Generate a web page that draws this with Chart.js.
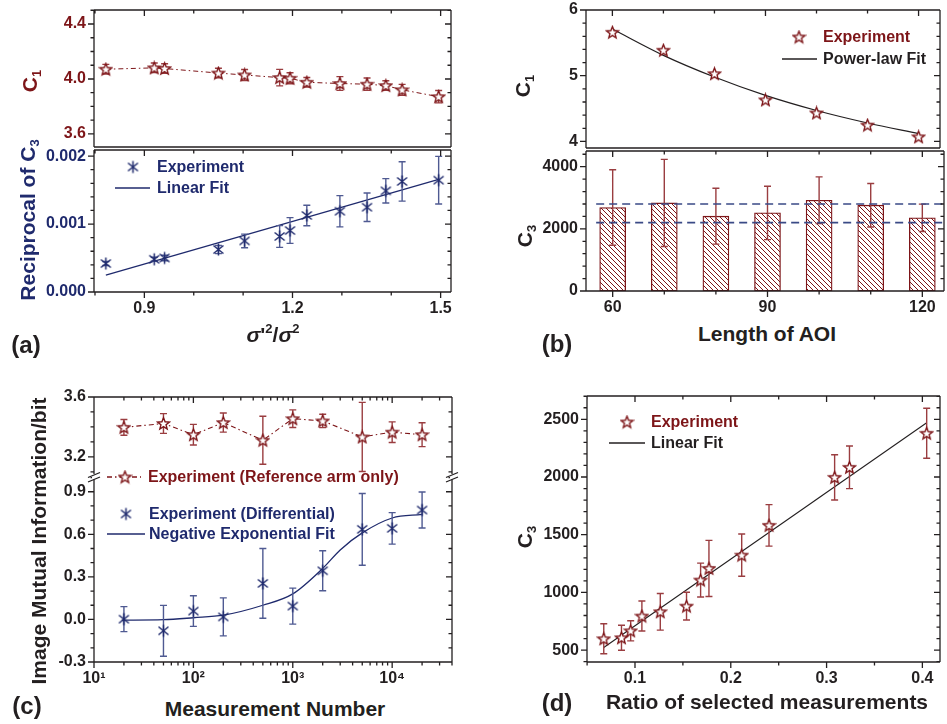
<!DOCTYPE html>
<html>
<head>
<meta charset="utf-8">
<script src="https://cdn.jsdelivr.net/npm/chart.js@4.4.0/dist/chart.umd.min.js"></script>
<style>
  body { margin: 0; background: #fff; }
  #fig { position: relative; width: 947px; height: 724px; overflow: hidden; background: #fff;
         font-family: "Liberation Sans", Arial, sans-serif; }
  #fig canvas { position: absolute; }
  .t { position: absolute; font-weight: bold; font-size: 21px; white-space: nowrap; color: #231f20;
       transform: translate(-50%, -50%); line-height: 1; }
  .r { transform: translate(-50%, -50%) rotate(-90deg); }
  .p { font-size: 24px; }
  .t sub { font-size: 13px; vertical-align: -4px; line-height: 0; }
  .t sup { font-size: 13px; vertical-align: 9px; line-height: 0; }
</style>
</head>
<body>
<div id="fig">
  <div class="t r" style="left:29px;top:81px;color:#7d1518">C<sub>1</sub></div>
  <div class="t r" style="left:27px;top:220px;color:#1f2a6d">Reciprocal of C<sub>3</sub></div>
  <div class="t" style="left:273px;top:334px"><i>σ</i>'<sup>2</sup>/<i>σ</i><sup>2</sup></div>
  <div class="t p" style="left:26px;top:345px">(a)</div>

  <div class="t r" style="left:522px;top:86px">C<sub>1</sub></div>
  <div class="t r" style="left:524px;top:236px">C<sub>3</sub></div>
  <div class="t" style="left:767px;top:333px">Length of AOI</div>
  <div class="t p" style="left:557px;top:344px">(b)</div>

  <div class="t r" style="left:38px;top:541px">Image Mutual Information/bit</div>
  <div class="t" style="left:275px;top:708px">Measurement Number</div>
  <div class="t p" style="left:27px;top:706px">(c)</div>

  <div class="t r" style="left:524px;top:537px">C<sub>3</sub></div>
  <div class="t" style="left:767px;top:701px">Ratio of selected measurements</div>
  <div class="t p" style="left:557px;top:703px">(d)</div>
</div>
<script>
// ---- (a) C1 and 1/C3 against sigma'^2/sigma^2
const ratioA = [0.822, 0.920, 0.941, 1.050, 1.103, 1.174, 1.195, 1.229, 1.296, 1.351, 1.389, 1.422, 1.496];
const c1A = [4.071, 4.081, 4.076, 4.043, 4.029, 4.010, 4.005, 3.976, 3.967, 3.962, 3.952, 3.921, 3.871];
const c1AErr = [0.035, 0.035, 0.035, 0.035, 0.04, 0.06, 0.04, 0.035, 0.05, 0.045, 0.035, 0.04, 0.045];
const invC3A = [0.000419, 0.000482, 0.000501, 0.000625, 0.000752, 0.000817, 0.000905, 0.001126, 0.001189, 0.001248, 0.001489, 0.001627, 0.001646];
const invC3AErr = [0.00003, 0.00003, 0.00004, 0.00006, 0.0001, 0.00016, 0.00019, 0.00015, 0.00023, 0.00021, 0.00018, 0.00029, 0.00035];
const linFitAX = [0.822, 1.496];
const linFitAY = [0.00025, 0.001657];
const ticksAX = [0.9, 1.2, 1.5];
const minorAX = [0.8, 1.0, 1.1, 1.3, 1.4];
const ticksC1A = [3.6, 4.0, 4.4];
const minorC1A = [3.7, 3.8, 3.9, 4.1, 4.2, 4.3, 4.5];
const ticksInvC3 = [0, 0.001, 0.002];
const minorInvC3 = [0.0002, 0.0004, 0.0006, 0.0008, 0.0012, 0.0014, 0.0016, 0.0018];

// ---- (b) against length of AOI
const aoi = [60, 70, 80, 90, 100, 110, 120];
const c1B = [5.661, 5.388, 5.030, 4.632, 4.433, 4.249, 4.070];
const powFitB = [5.71, 5.31, 4.98, 4.70, 4.47, 4.28, 4.12];
const c3B = [2687, 2834, 2408, 2513, 2921, 2761, 2357];
const c3BErr = [1215, 1400, 900, 860, 750, 700, 440];
const c3Band = [2800, 2200];
const bandX = [56.8, 124.2];
const ticksAOI = [60, 90, 120];
const minorAOI = [70, 80, 100, 110];
const ticksC1B = [4, 5, 6];
const minorC1B = [4.2, 4.4, 4.6, 4.8, 5.2, 5.4, 5.6, 5.8];
const ticksC3B = [0, 2000, 4000];
const minorC3B = [400, 800, 1200, 1600, 2400, 2800, 3200, 3600, 4400];

// ---- (c) mutual information against measurement number
const measN = [20, 50, 100, 200, 500, 1000, 2000, 5000, 10000, 20000];
const refArm = [3.397, 3.423, 3.348, 3.429, 3.311, 3.455, 3.440, 3.333, 3.365, 3.348];
const refArmErr = [0.053, 0.066, 0.069, 0.064, 0.16, 0.059, 0.045, 0.231, 0.069, 0.08];
const diffMI = [0.002, -0.080, 0.059, 0.018, 0.254, 0.094, 0.343, 0.635, 0.642, 0.771];
const diffMIErr = [0.088, 0.179, 0.108, 0.134, 0.246, 0.127, 0.141, 0.253, 0.111, 0.127];
const expFitX = [19, 50, 100, 200, 500, 1000, 2000, 3000, 5000, 10000, 20000];
const expFitY = [-0.005, -0.002, 0.012, 0.03, 0.10, 0.18, 0.36, 0.49, 0.61, 0.715, 0.74];
const ticksN = [10, 100, 1000, 10000];
const minorN = [20, 30, 40, 50, 60, 70, 80, 90, 200, 300, 400, 500, 600, 700, 800, 900,
                2000, 3000, 4000, 5000, 6000, 7000, 8000, 9000, 20000, 30000, 40000];
const ticksRef = [3.2, 3.6];
const minorRef = [3.1, 3.3, 3.4, 3.5];
const ticksMI = [-0.3, 0, 0.3, 0.6, 0.9];
const minorMI = [-0.2, -0.1, 0.1, 0.2, 0.4, 0.5, 0.7, 0.8, 1.0];

// ---- (d) C3 against ratio of selected measurements
const selRatio = [0.0674, 0.0859, 0.0955, 0.1072, 0.1264, 0.1538, 0.1685, 0.1772, 0.2114, 0.2399, 0.3084, 0.3239, 0.4045];
const c3D = [598, 607, 667, 795, 832, 881, 1107, 1208, 1323, 1581, 1997, 2084, 2379];
const c3DErr = [130, 108, 87, 130, 159, 120, 147, 243, 183, 180, 196, 185, 217];
const linFitDX = [0.0674, 0.4045];
const linFitDY = [523, 2470];
const ticksRatio = [0.1, 0.2, 0.3, 0.4];
const minorRatio = [0.05, 0.15, 0.25, 0.35];
const ticksC3D = [500, 1000, 1500, 2000, 2500];
const minorC3D = [400, 600, 700, 800, 900, 1100, 1200, 1300, 1400, 1600, 1700, 1800, 1900,
                  2100, 2200, 2300, 2400, 2600, 2700];

const RED = '#7d1518', RED_E = '#9a3d40', NAVY = '#1f2a6d', NAVY_E = '#4f5a92', INK = '#231f20';
const FONT = '"Liberation Sans", Arial, sans-serif';
Chart.defaults.font.family = FONT;
Chart.defaults.font.weight = 'bold';
Chart.defaults.font.size = 16;
Chart.defaults.color = INK;

function starImg(col) {
  const c = document.createElement('canvas');
  c.width = c.height = 15;
  const g = c.getContext('2d');
  const R = 6.2, r = 2.7, cx = 7.5, cy = 8;
  g.beginPath();
  for (let k = 0; k < 10; k++) {
    const a = -Math.PI / 2 + k * Math.PI / 5, rad = k % 2 ? r : R;
    g.lineTo(cx + rad * Math.cos(a), cy + rad * Math.sin(a));
  }
  g.closePath();
  g.fillStyle = '#fff'; g.fill();
  g.strokeStyle = col; g.lineWidth = 1.4; g.stroke();
  return c;
}
function astImg(col) {
  const c = document.createElement('canvas');
  c.width = c.height = 15;
  const g = c.getContext('2d');
  g.strokeStyle = col; g.lineWidth = 1.5;
  g.beginPath();
  g.moveTo(7.5, 1.5); g.lineTo(7.5, 13.5);
  g.moveTo(2.5, 3.5); g.lineTo(12.5, 11.5);
  g.moveTo(12.5, 3.5); g.lineTo(2.5, 11.5);
  g.stroke();
  return c;
}
function hatch(col) {
  const c = document.createElement('canvas');
  c.width = c.height = 5;
  const g = c.getContext('2d');
  g.fillStyle = '#fff'; g.fillRect(0, 0, 5, 5);
  g.strokeStyle = col; g.lineWidth = 1;
  g.beginPath();
  g.moveTo(-1, -1); g.lineTo(6, 6);
  g.moveTo(-1, 4); g.lineTo(1, 6);
  g.moveTo(4, -1); g.lineTo(6, 1);
  g.stroke();
  return g.createPattern(c, 'repeat');
}
const starR = starImg(RED), astN = astImg(NAVY);

function pts(xs, ys) { return xs.map((x, i) => ({ x: x, y: ys[i] })); }
function fixed(vals) { return s => { s.ticks = vals.map(v => ({ value: v })); }; }
const plain = v => String(v);

// frame, minor ticks and axis breaks
function framePlug(f) {
  return {
    id: 'frame',
    afterDraw(chart) {
      const { ctx, chartArea: a, scales: { x, y } } = chart;
      const L = a.left, R = a.right, T = a.top, B = a.bottom;
      ctx.save();
      ctx.strokeStyle = INK; ctx.lineWidth = 1.3;
      ctx.beginPath();
      if (f.sides.includes('t')) { ctx.moveTo(L, T); ctx.lineTo(R, T); }
      if (f.sides.includes('b')) { ctx.moveTo(L, B); ctx.lineTo(R, B); }
      if (f.sides.includes('l')) { ctx.moveTo(L, T); ctx.lineTo(L, B); }
      if (f.sides.includes('r')) { ctx.moveTo(R, T); ctx.lineTo(R, B); }
      const xv = x.ticks.map(t => [t.value, 6]).concat((f.xMinor || []).map(v => [v, 3.5]));
      const yv = y.ticks.map(t => [t.value, 6]).concat((f.yMinor || []).map(v => [v, 3.5]));
      for (const [v, n] of xv) {
        const p = x.getPixelForValue(v);
        if (p < L - 0.5 || p > R + 0.5) continue;
        if (f.ticks.includes('b')) { ctx.moveTo(p, B); ctx.lineTo(p, B + n); }
        if (f.ticks.includes('t')) { ctx.moveTo(p, T); ctx.lineTo(p, T + n); }
      }
      for (const [v, n] of yv) {
        const p = y.getPixelForValue(v);
        if (p < T - 0.5 || p > B + 0.5) continue;
        if (f.ticks.includes('l')) { ctx.moveTo(L - n, p); ctx.lineTo(L, p); }
        if (f.ticks.includes('r')) { ctx.moveTo(R - n, p); ctx.lineTo(R, p); }
      }
      ctx.stroke();
      if (f.brk) {
        for (const p of [L, R]) {
          ctx.fillStyle = '#fff';
          ctx.fillRect(p - 2, T - 1.5, 4, 4);
          ctx.beginPath();
          ctx.moveTo(p - 6, T + 0.5); ctx.lineTo(p + 6, T - 4.5);
          ctx.moveTo(p - 6, T + 5); ctx.lineTo(p + 6, T);
          ctx.stroke();
        }
      }
      ctx.restore();
    }
  };
}

// error bars drawn with the chart's own y scale
function drawErr(chart, i) {
  const ds = chart.data.datasets[i];
  if (!ds.errors) return;
  const { ctx, scales: { y } } = chart;
  const meta = chart.getDatasetMeta(i);
  ctx.save();
  ctx.strokeStyle = ds.errColor; ctx.lineWidth = 1.4;
  ctx.beginPath();
  meta.data.forEach((el, k) => {
    const v = ds.data[k].y, e = ds.errors[k];
    const y1 = y.getPixelForValue(v + e), y2 = y.getPixelForValue(v - e);
    ctx.moveTo(el.x, y1); ctx.lineTo(el.x, y2);
    ctx.moveTo(el.x - 3.5, y1); ctx.lineTo(el.x + 3.5, y1);
    ctx.moveTo(el.x - 3.5, y2); ctx.lineTo(el.x + 3.5, y2);
  });
  ctx.stroke();
  ctx.restore();
}
const errPlug = {
  id: 'err',
  beforeDatasetDraw(chart, args) { if (!chart.data.datasets[args.index].errAfter) drawErr(chart, args.index); },
  afterDatasetDraw(chart, args) { if (chart.data.datasets[args.index].errAfter) drawErr(chart, args.index); }
};

// legend entries, given in page coordinates
function legPlug(items, ox, oy) {
  return {
    id: 'leg',
    afterDraw(chart) {
      const ctx = chart.ctx;
      ctx.save();
      ctx.font = 'bold 16px ' + FONT;
      ctx.textBaseline = 'middle';
      for (const it of items) {
        const y = it.y - oy;
        if (it.line) {
          ctx.strokeStyle = it.mc; ctx.lineWidth = 1.3;
          ctx.setLineDash(it.dash || []);
          ctx.beginPath(); ctx.moveTo(it.line[0] - ox, y); ctx.lineTo(it.line[1] - ox, y); ctx.stroke();
          ctx.setLineDash([]);
        }
        if (it.img) ctx.drawImage(it.img, it.mx - ox - it.img.width / 2, y - it.img.height / 2);
        ctx.fillStyle = it.color;
        ctx.fillText(it.text, it.x - ox, y + 1);
      }
      ctx.restore();
    }
  };
}

function mk(box, pad, cfg, frame, legend) {
  const [l, t, r, b] = box, [pl, pt, pr, pb] = pad;
  const cv = document.createElement('canvas');
  cv.width = r - l + pl + pr; cv.height = b - t + pt + pb;
  cv.style.left = (l - pl) + 'px'; cv.style.top = (t - pt) + 'px';
  document.getElementById('fig').insertBefore(cv, document.getElementById('fig').firstChild);
  const o = cfg.options;
  o.responsive = false; o.animation = false; o.events = [];
  o.layout = { padding: { left: 0, top: pt, right: pr, bottom: 0 } };
  o.plugins = { legend: { display: false }, tooltip: { enabled: false } };
  const sx = o.scales.x, sy = o.scales.y;
  sx.afterFit = s => { s.height = pb; s.paddingLeft = 0; s.paddingRight = 0; };
  sy.afterFit = s => { s.width = pl; s.paddingTop = 0; s.paddingBottom = 0; };
  for (const s of [sx, sy]) {
    s.grid = { display: false, drawTicks: false };
    s.border = { display: false };
    s.ticks = Object.assign({ autoSkip: false, maxRotation: 0 }, s.ticks || {});
  }
  sx.ticks.padding = sx.ticks.padding || 8;
  sy.ticks.padding = sy.ticks.padding || 8;
  cfg.plugins = [framePlug(frame), errPlug, legPlug(legend || [], l - pl, t - pt)];
  return new Chart(cv, cfg);
}

// (a) upper: C1
mk([94, 10, 451, 150], [60, 8, 10, 4], {
  type: 'scatter',
  data: { datasets: [{
    data: pts(ratioA, c1A), errors: c1AErr, errColor: RED_E,
    showLine: true, borderColor: RED, borderWidth: 1, borderDash: [5, 3, 1.5, 3],
    pointStyle: starR, pointRadius: 6, clip: false
  }] },
  options: { scales: {
    x: { type: 'linear', min: 0.798, max: 1.521, ticks: { display: false }, afterBuildTicks: fixed(ticksAX) },
    y: { min: 3.505, max: 4.502, ticks: { color: RED, callback: v => v.toFixed(1) }, afterBuildTicks: fixed(ticksC1A) }
  } }
}, { sides: 'tblr', ticks: 'tlr', xMinor: minorAX, yMinor: minorC1A });

// (a) lower: 1/C3
mk([94, 150, 451, 292], [60, 8, 16, 30], {
  type: 'scatter',
  data: { datasets: [
    { data: pts(ratioA, invC3A), errors: invC3AErr, errColor: NAVY_E, pointStyle: astN, pointRadius: 6, clip: false },
    { data: pts(linFitAX, linFitAY), showLine: true, borderColor: NAVY, borderWidth: 1.3, pointRadius: 0 }
  ] },
  options: { scales: {
    x: { type: 'linear', min: 0.798, max: 1.521, ticks: { color: INK, padding: 7, callback: v => v.toFixed(1) }, afterBuildTicks: fixed(ticksAX) },
    y: { min: 0, max: 0.00209, ticks: { color: NAVY, callback: v => v.toFixed(3) }, afterBuildTicks: fixed(ticksInvC3) }
  } }
}, { sides: 'tblr', ticks: 'tblr', xMinor: minorAX, yMinor: minorInvC3 }, [
  { img: astN, mx: 133, y: 167, x: 157, text: 'Experiment', color: NAVY },
  { line: [115, 150], mc: NAVY, y: 188, x: 157, text: 'Linear Fit', color: NAVY }
]);

// (b) upper: C1 with power-law fit
mk([586, 10, 944, 151], [70, 8, 3, 4], {
  type: 'scatter',
  data: { datasets: [
    { data: pts(aoi, c1B), pointStyle: starR, pointRadius: 6, clip: false },
    { data: pts(aoi, powFitB), showLine: true, borderColor: INK, borderWidth: 1.2, pointRadius: 0, cubicInterpolationMode: 'monotone' }
  ] },
  options: { scales: {
    x: { type: 'linear', min: 54.83, max: 124.2, ticks: { display: false }, afterBuildTicks: fixed(ticksAOI) },
    y: { min: 3.9, max: 6, ticks: { color: INK, callback: plain }, afterBuildTicks: fixed(ticksC1B) }
  } }
}, { sides: 'tblr', ticks: 'tlr', xMinor: minorAOI, yMinor: minorC1B }, [
  { img: starR, mx: 799, y: 37, x: 823, text: 'Experiment', color: RED },
  { line: [782, 817], mc: INK, y: 59, x: 823, text: 'Power-law Fit', color: INK }
]);

// (b) lower: C3 bars
mk([586, 151, 944, 291], [70, 8, 3, 30], {
  type: 'bar',
  data: { datasets: [
    { type: 'line', data: pts(bandX, [c3Band[0], c3Band[0]]), borderColor: '#3a4a86', borderWidth: 1.6, borderDash: [8, 5], pointRadius: 0 },
    { type: 'line', data: pts(bandX, [c3Band[1], c3Band[1]]), borderColor: '#3a4a86', borderWidth: 1.6, borderDash: [8, 5], pointRadius: 0 },
    { data: pts(aoi, c3B), errors: c3BErr, errColor: RED_E, errAfter: true,
      backgroundColor: hatch(RED), borderColor: RED, borderWidth: 1.3, borderSkipped: false, barThickness: 26 }
  ] },
  options: { scales: {
    x: { type: 'linear', offset: false, min: 54.83, max: 124.2, ticks: { color: INK, padding: 7, callback: plain }, afterBuildTicks: fixed(ticksAOI) },
    y: { min: 0, max: 4505, ticks: { color: INK, callback: plain }, afterBuildTicks: fixed(ticksC3B) }
  } }
}, { sides: 'tblr', ticks: 'tblr', xMinor: minorAOI, yMinor: minorC3B });

// (c) upper: reference arm only
const supDigits = { 1: '¹', 2: '²', 3: '³', 4: '⁴' };
mk([94, 397, 452, 477], [60, 12, 14, 4], {
  type: 'scatter',
  data: { datasets: [{
    data: pts(measN, refArm), errors: refArmErr, errColor: RED_E,
    showLine: true, borderColor: RED, borderWidth: 1.1, borderDash: [5, 3, 1.5, 3],
    pointStyle: starR, pointRadius: 6, clip: false
  }] },
  options: { scales: {
    x: { type: 'logarithmic', min: 10, max: 40000, ticks: { display: false }, afterBuildTicks: fixed(ticksN) },
    y: { min: 3.086, max: 3.6, ticks: { color: INK, callback: v => v.toFixed(1) }, afterBuildTicks: fixed(ticksRef) }
  } }
}, { sides: 'tlr', ticks: 'tlr', xMinor: minorN, yMinor: minorRef });

// (c) lower: differential
mk([94, 477, 452, 662], [60, 20, 20, 30], {
  type: 'scatter',
  data: { datasets: [
    { data: pts(measN, diffMI), errors: diffMIErr, errColor: NAVY_E, pointStyle: astN, pointRadius: 6, clip: false },
    { data: pts(expFitX, expFitY), showLine: true, borderColor: NAVY, borderWidth: 1.3, pointRadius: 0, cubicInterpolationMode: 'monotone' }
  ] },
  options: { scales: {
    x: { type: 'logarithmic', min: 10, max: 40000,
         ticks: { color: INK, padding: 7, callback: v => '10' + supDigits[Math.round(Math.log10(v))] },
         afterBuildTicks: fixed(ticksN) },
    y: { min: -0.3, max: 1.004, ticks: { color: INK, callback: v => v.toFixed(1) }, afterBuildTicks: fixed(ticksMI) }
  } }
}, { sides: 'blr', ticks: 'blr', xMinor: minorN, yMinor: minorMI, brk: true }, [
  { line: [107, 141], mc: RED, dash: [5, 3, 1.5, 3], img: starR, mx: 125, y: 477, x: 148, text: 'Experiment (Reference arm only)', color: RED },
  { img: astN, mx: 126, y: 514, x: 149, text: 'Experiment (Differential)', color: NAVY },
  { line: [107, 145], mc: NAVY, y: 534, x: 149, text: 'Negative Exponential Fit', color: NAVY }
]);

// (d) C3 against ratio of selected measurements
mk([587, 396, 945, 662], [70, 8, 2, 30], {
  type: 'scatter',
  data: { datasets: [
    { data: pts(selRatio, c3D), errors: c3DErr, errColor: RED_E, pointStyle: starR, pointRadius: 6, clip: false },
    { data: pts(linFitDX, linFitDY), showLine: true, borderColor: INK, borderWidth: 1.1, pointRadius: 0 }
  ] },
  options: { scales: {
    x: { type: 'linear', min: 0.0499, max: 0.4184, ticks: { color: INK, padding: 7, callback: v => v.toFixed(1) }, afterBuildTicks: fixed(ticksRatio) },
    y: { min: 397, max: 2702, ticks: { color: INK, callback: plain }, afterBuildTicks: fixed(ticksC3D) }
  } }
}, { sides: 'tblr', ticks: 'tblr', xMinor: minorRatio, yMinor: minorC3D }, [
  { img: starR, mx: 627, y: 422, x: 651, text: 'Experiment', color: RED },
  { line: [609, 645], mc: INK, y: 443, x: 651, text: 'Linear Fit', color: INK }
]);
</script>
</body>
</html>
